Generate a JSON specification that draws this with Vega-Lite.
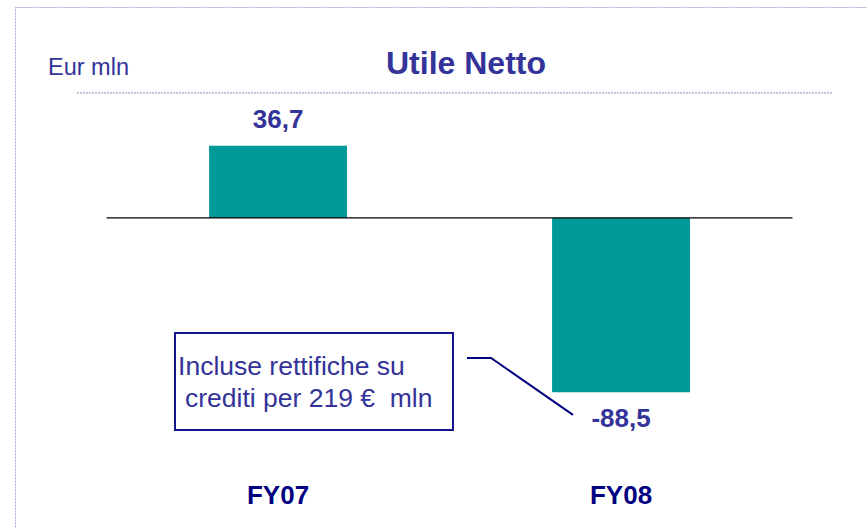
{
  "$schema": "https://vega.github.io/schema/vega-lite/v6.json",
  "width": 852,
  "height": 521,
  "autosize": {"type": "none"},
  "padding": {"left": 15, "top": 7, "right": 0, "bottom": 0},
  "background": "white",
  "title": {
    "text": "Utile Netto",
    "frame": "group",
    "anchor": "middle",
    "dx": 25,
    "offset": -99,
    "baseline": "alphabetic",
    "font": "Liberation Sans",
    "fontSize": 32,
    "fontWeight": "bold",
    "color": "#333399"
  },
  "layer": [
    {
      "data": {"values": [{"anno": "FY07", "utile": 36.7}, {"anno": "FY08", "utile": -88.5}]},
      "encoding": {
        "x": {
          "field": "anno",
          "type": "nominal",
          "sort": null,
          "scale": {"paddingInner": 0.598, "paddingOuter": 0.541, "align": 0.523},
          "axis": {
            "title": null,
            "orient": "bottom",
            "offset": -25,
            "labelPadding": 0,
            "labelBaseline": "alphabetic",
            "ticks": false,
            "domain": false,
            "grid": false,
            "labelAngle": 0,
            "labelFont": "Liberation Sans",
            "labelFontSize": 26,
            "labelFontWeight": "bold",
            "labelColor": "#000080"
          }
        },
        "y": {
          "field": "utile",
          "type": "quantitative",
          "title": "Eur mln",
          "scale": {"domain": [-157.4, 107.1], "nice": false},
          "axis": null
        }
      },
      "layer": [
        {"mark": {"type": "bar", "color": "#009999"}},
        {
          "transform": [{"filter": "datum.utile >= 0"}],
          "mark": {"type": "text", "dy": -18, "baseline": "alphabetic", "font": "Liberation Sans", "fontSize": 26, "fontWeight": "bold", "color": "#333399"},
          "encoding": {"text": {"field": "utile", "type": "quantitative", "format": ".1f"}}
        },
        {
          "transform": [{"filter": "datum.utile < 0"}],
          "mark": {"type": "text", "dy": 35, "baseline": "alphabetic", "font": "Liberation Sans", "fontSize": 26, "fontWeight": "bold", "color": "#333399"},
          "encoding": {"text": {"field": "utile", "type": "quantitative", "format": ".1f"}}
        }
      ]
    },
    {
      "layer": [
        {
          "data": {"values": [{}]},
          "mark": {"type": "rule", "color": "#000000", "strokeWidth": 1.3},
          "encoding": {
            "x": {"datum": -0.5, "type": "quantitative", "scale": {"domain": [-0.7668, 1.7172], "nice": false, "zero": false}, "axis": null},
            "x2": {"datum": 1.5},
            "y": {"datum": 0, "type": "quantitative", "axis": null}
          }
        },
        {
          "data": {"values": [{}]},
          "mark": {"type": "rule", "color": "#8c8cbc", "strokeWidth": 1, "strokeDash": [2, 1]},
          "encoding": {
            "x": {"datum": -0.586, "type": "quantitative", "scale": {"domain": [-0.7668, 1.7172], "nice": false, "zero": false}, "axis": null},
            "x2": {"datum": 1.615},
            "y": {"datum": 63.45, "type": "quantitative", "axis": null}
          }
        },
        {
          "data": {"values": [{"unit": "Eur mln"}]},
          "mark": {"type": "text", "align": "left", "baseline": "alphabetic", "font": "Liberation Sans", "fontSize": 23.5, "color": "#333399"},
          "encoding": {
            "x": {"datum": -0.6706, "type": "quantitative", "scale": {"domain": [-0.7668, 1.7172], "nice": false, "zero": false}, "axis": null},
            "y": {"datum": 72.6, "type": "quantitative", "axis": null},
            "text": {"field": "unit"}
          }
        },
        {
          "data": {"values": [{}]},
          "mark": {"type": "rect", "fill": "white", "stroke": "#14148c", "strokeWidth": 2},
          "encoding": {
            "x": {"datum": -0.3003, "type": "quantitative", "scale": {"domain": [-0.7668, 1.7172], "nice": false, "zero": false}, "axis": null},
            "x2": {"datum": 0.5102},
            "y": {"datum": -58.4, "type": "quantitative", "axis": null},
            "y2": {"datum": -107.6}
          }
        },
        {
          "data": {"values": [{"cx": 0.551, "cy": -71.07, "i": 1}, {"cx": 0.621, "cy": -71.07, "i": 2}, {"cx": 0.86, "cy": -100.0, "i": 3}]},
          "mark": {"type": "line", "color": "#000080", "strokeWidth": 2},
          "encoding": {
            "x": {"field": "cx", "type": "quantitative", "scale": {"domain": [-0.7668, 1.7172], "nice": false, "zero": false}, "axis": null},
            "y": {"field": "cy", "type": "quantitative", "axis": null},
            "order": {"field": "i", "type": "quantitative"}
          }
        },
        {
          "data": {"values": [{"note": "Incluse rettifiche su"}]},
          "mark": {"type": "text", "align": "left", "baseline": "alphabetic", "font": "Liberation Sans", "fontSize": 26.5, "color": "#333399"},
          "encoding": {
            "x": {"datum": -0.2915, "type": "quantitative", "scale": {"domain": [-0.7668, 1.7172], "nice": false, "zero": false}, "axis": null},
            "y": {"datum": -79.7, "type": "quantitative", "axis": null},
            "text": {"field": "note"}
          }
        },
        {
          "data": {"values": [{"note": "crediti per 219 €\u00a0\u00a0mln"}]},
          "mark": {"type": "text", "align": "left", "baseline": "alphabetic", "font": "Liberation Sans", "fontSize": 26.5, "color": "#333399"},
          "encoding": {
            "x": {"datum": -0.2711, "type": "quantitative", "scale": {"domain": [-0.7668, 1.7172], "nice": false, "zero": false}, "axis": null},
            "y": {"datum": -95.9, "type": "quantitative", "axis": null},
            "text": {"field": "note"}
          }
        }
      ]
    }
  ],
  "resolve": {"scale": {"x": "independent"}, "axis": {"x": "independent"}},
  "config": {
    "font": "Liberation Sans",
    "view": {"stroke": "#a8a8d8", "strokeDash": [2, 1], "strokeWidth": 1},
    "locale": {"number": {"decimal": ",", "thousands": ".", "grouping": [3], "currency": ["€", ""], "minus": "-"}}
  }
}
